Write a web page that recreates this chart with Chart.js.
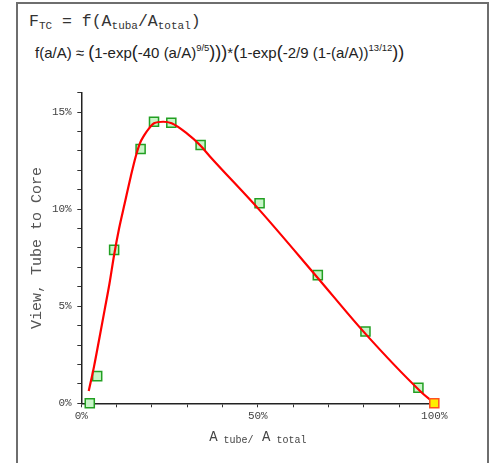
<!DOCTYPE html>
<html>
<head>
<meta charset="utf-8">
<script src="https://cdn.jsdelivr.net/npm/chart.js@4.4.1/dist/chart.umd.min.js"></script>
<style>
html, body { margin: 0; padding: 0; background: #fff; }
#wrap { position: relative; width: 494px; height: 463px; overflow: hidden; }
#frame { position: absolute; left: 16px; top: 2px; width: 469px; height: 480px;
         border: 2px solid #6e6e6e; border-bottom: none; }
#h1 { position: absolute; left: 29px; top: 12px; font: 16.5px "Liberation Mono", monospace;
      color: #333; white-space: pre; }
#h1 sub { font-size: 11px; vertical-align: -3px; line-height: 0; }
#h2 { position: absolute; left: 35px; top: 42px; font: 15px "Liberation Sans", Arial, sans-serif;
      color: #222; white-space: pre; }
#h2 .p { font-size: 18px; }
#h2 sup { font-size: 9.5px; vertical-align: 7px; line-height: 0; }
#chart { position: absolute; left: 0; top: 0; }
</style>
</head>
<body>
<div id="wrap">
  <div id="frame"></div>
  <div id="h1">F<sub>TC</sub> = f(A<sub>tuba</sub>/A<sub>total</sub>)</div>
  <div id="h2">f(a/A) ≈ <span class="p">(</span>1-exp<span class="p">(</span>-40 (a/A)<sup>9/5</sup><span class="p">)))</span>*<span class="p">(</span>1-exp<span class="p">(</span>-2/9 (1-(a/A))<sup>13/12</sup><span class="p">))</span></div>
  <canvas id="chart" width="494" height="463"></canvas>
</div>
<script>
document.addEventListener("DOMContentLoaded", () => {

// --------------------
// DATA (percent)
// --------------------
const curveX = [2.1, 3.6, 5.2, 6.6, 8.0, 9.26, 10.7, 12.3, 14.0, 15.4, 16.6, 17.8, 19.2, 20.6, 23.2, 25.6, 29.9, 33.6, 36.5, 50.25, 66.7, 80.2, 95.9, 100];
const curveY = [0.63, 1.89, 3.43, 4.8, 6.18, 7.6, 9.0, 10.3, 11.67, 12.7, 13.39, 13.8, 14.16, 14.42, 14.5, 14.42, 13.9, 13.3, 12.7, 10.0, 6.52, 3.64, 0.65, 0];

const pointsX = [2.4, 4.5, 9.3, 16.8, 20.6, 25.5, 33.8, 50.5, 67, 80.5, 95.5];
const pointsY = [0, 1.4, 7.9, 13.1, 14.5, 14.45, 13.3, 10.3, 6.6, 3.7, 0.8];

const endX = [100];
const endY = [0];

const yTitle = "View, Tube to Core";
const xTitleParts = [["A", "big"], [" tube/", "sub"], [" A", "big"], [" total", "sub"]];

const pairs = (xs, ys) => xs.map((x, i) => ({ x, y: ys[i] }));

// --------------------
// X AXIS TITLE (with subscripts)
// --------------------
const xTitlePlugin = {
  id: "xTitle",
  afterDraw(chart) {
    const c = chart.ctx;
    const fonts = { big: '14px "Liberation Mono"', sub: '10px "Liberation Mono"' };
    c.save();
    c.fillStyle = "#444";
    c.textBaseline = "alphabetic";
    let total = 0;
    xTitleParts.forEach(([t, k]) => { c.font = fonts[k]; total += c.measureText(t).width; });
    const a = chart.chartArea;
    let x = (a.left + a.right) / 2 - total / 2;
    xTitleParts.forEach(([t, k]) => {
      c.font = fonts[k];
      c.fillText(t, x, k === "big" ? 441 : 443);
      x += c.measureText(t).width;
    });
    c.restore();
  }
};

const tickFont = { family: "Liberation Mono", size: 11 };

new Chart(document.getElementById("chart").getContext("2d"), {
  type: "scatter",
  data: {
    datasets: [
      {
        label: "fit",
        data: pairs(curveX, curveY),
        showLine: true,
        borderColor: "#ff0000",
        borderWidth: 2.2,
        pointRadius: 0,
        cubicInterpolationMode: "monotone",
        clip: false,
        order: 2
      },
      {
        label: "data",
        data: pairs(pointsX, pointsY),
        showLine: false,
        pointStyle: "rect",
        pointRadius: 6.4,
        backgroundColor: "#c8f5c8",
        borderColor: "#22a022",
        borderWidth: 1.5,
        clip: false,
        order: 3
      },
      {
        label: "end",
        data: pairs(endX, endY),
        showLine: false,
        pointStyle: "rect",
        pointRadius: 6.4,
        backgroundColor: "#ffee00",
        borderColor: "#ff5020",
        borderWidth: 1.5,
        clip: false,
        order: 1
      }
    ]
  },
  options: {
    responsive: false,
    animation: false,
    devicePixelRatio: 1,
    layout: { padding: { top: 92.6, right: 59.7, bottom: 0, left: 0 } },
    plugins: {
      legend: { display: false },
      tooltip: { enabled: false }
    },
    scales: {
      x: {
        type: "linear",
        min: 0,
        max: 100,
        afterFit: (s) => { s.height = 59.7; },
        border: { color: "#222", width: 1.5 },
        grid: { display: true, drawOnChartArea: false, tickLength: 4, color: "#333" },
        ticks: {
          stepSize: 10,
          padding: 2.5,
          maxRotation: 0,
          autoSkip: false,
          color: "#444",
          font: tickFont,
          callback: (v) => (v % 50 === 0 ? v + "%" : "")
        }
      },
      y: {
        min: 0,
        max: 16,
        afterFit: (s) => { s.width = 81.3; },
        border: { color: "#222", width: 1.5 },
        grid: { display: true, drawOnChartArea: false, tickLength: 4, color: "#333" },
        ticks: {
          stepSize: 1,
          padding: 5.6,
          autoSkip: false,
          color: "#444",
          font: tickFont,
          callback: (v) => (v % 5 === 0 ? v + "%" : "")
        },
        title: {
          display: true,
          text: yTitle,
          color: "#555",
          padding: 28,
          font: { family: "Liberation Mono", size: 15 }
        }
      }
    }
  },
  plugins: [xTitlePlugin]
});

});
</script>
</body>
</html>
